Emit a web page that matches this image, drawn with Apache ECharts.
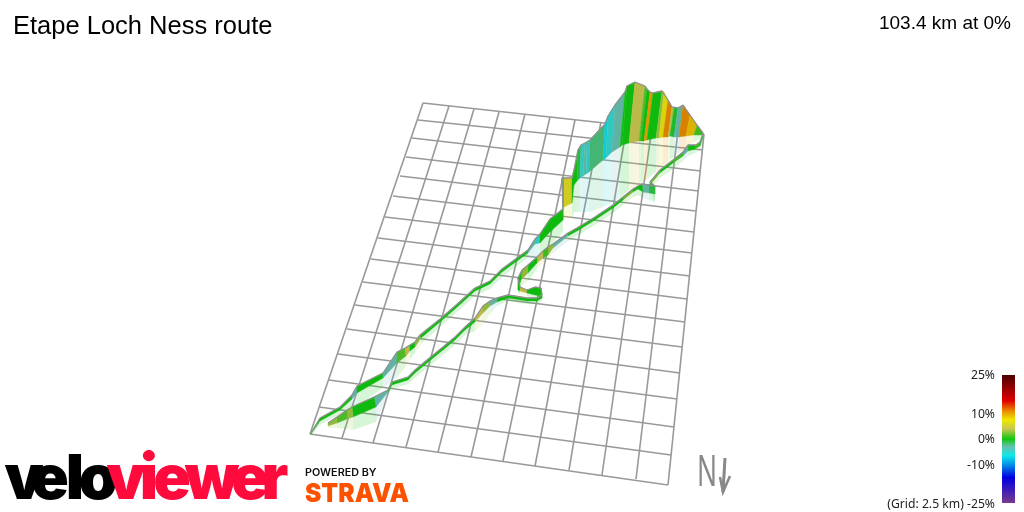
<!DOCTYPE html>
<html>
<head>
<meta charset="utf-8">
<style>html,body{margin:0;padding:0;background:#fff}#main{width:1024px;height:512px}</style>
<script src="https://cdn.jsdelivr.net/npm/echarts@6/dist/echarts.min.js"></script>
</head>
<body>
<div id="main"></div>
<script>
// grid corners along each edge of the tilted map
var rowsLeft = [[423,103],[418,120],[412,138],[406,157],[400,176],[393,196],[385,217],[378,238],[371,259],[363,282],[355,305],[347,329],[338,354],[329,380],[319,407],[310,434]];
var rowsRight = [[704,134],[703,150],[701,171],[699,191],[696,211],[694,232],[692,253],[690,276],[687,299],[685,322],[682,347],[680,373],[677,399],[674,427],[671,455],[668,485]];
var colsTop = [[423,103],[449,106],[474,109],[499,112],[525,114],[550,117],[575,120],[601,122],[627,125],[652,128],[678,131],[704,134]];
var colsBottom = [[310,434],[342,438],[373,443],[406,447],[438,452],[471,457],[503,461],[535,466],[569,470],[602,475],[636,479],[668,485]];

// route sections: topX, topY, baseX, baseY, shadowY, grade to the next section
var climbRoute = [
  [311,433,311,434,435,0],[320,418,320,421,425,0],[340,407,340,410,414,0],[352,395,352,399,406,-3],
  [357,386,357,393,406,0],[383,373,383,378,388,-3],[397,352,397,363,378,1.5],[405,348,406,356,366,4],
  [410,345,410,351,359,0],[415,342,415,347,353,3],[420,335,421,338,344,0],[440,319,440,322,327,0],
  [455,306,455,309,314,0],[475,288,475,291,296,0],[490,281,490,284,289,0],[502,269,502,272,277,0],
  [517,258,517,261,266,0],[528,250,528,253,258,-3],[535,239,535,244,258,-5],[540,234,540,243,255,0],
  [550,219,550,232,246,0],[563,209,563,220,232,0.5],[562,178,563,207,218,1.5],[564,178,564,207,218,6],
  [572,178,572,203,218,0],[574,170,574,185,212,0],[578,150,577,181,212,-1],[581,145,580,178,212,-5],
  [585,143,583,176,212,-3],[587,142,586,174,212,-5],[590,140,589,172,212,-2],[605,124,603,160,207,-7],
  [608,116,606,158,206,-5],[615,105,612,152,202,-3],[625,92,620,147,198,0],[627,86,622,145,196,0],
  [635,82,629,143,190,4],[645,86,639,141,184,1.5],[647,89,641,141,183,0],[650,92,644,141,181,10],
  [653,93,647,140,179,0],[662,91,656,138,172,3],[664,92,659,138,170,7],[668,100,663,137,166,11],
  [672,107,668,137,162,4],[674,108,670,136,160,-0.5],[678,108,674,137,157,-3],[683,105,679,137,153,11],
  [690,115,686,136,148,9],[697,125,694,135,142,1],[703,133,703,135,137,0]
];
var returnRoute = [
  [703,134,703,137,140,0],[700,142,700,146,150,1],[696,145,695,149,153,0],[688,145,688,151,156,-3],
  [683,152,683,156,161,1],[673,160,673,163,169,0],[660,170,660,173,178,2],[650,182,650,185,190,0],
  [655,186,655,194,202,-1],[649,185,649,193,200,-3],[642,184,643,192,198,0],[638,186,638,189,195,0],
  [633,189,633,192,197,2],[623,197,623,200,205,0],[613,205,613,208,213,0],[595,217,595,220,225,0],
  [577,228,577,231,236,0],[568,233,568,236,241,-3],[553,244,553,248,253,3],[548,247,548,255,259,1],
  [543,251,543,258,263,4],[537,257,537,263,269,0],[528,265,528,273,281,3],[522,270,521,280,286,0],
  [518,278,518,290,293,0],[520,287,520,291,294,4],[527,290,527,293,296,0],[535,287,535,295,298,0],
  [541,288,541,296,299,0],[542,295,542,298,301,0],[537,298,537,301,304,0],[527,298,527,301,304,0],
  [508,295,508,298,301,0],[497,298,497,302,306,-3],[490,301,490,306,314,3],[483,306,483,313,323,4],
  [475,318,475,322,331,0],[465,327,465,330,335,0],[455,337,455,340,345,0],[443,347,443,350,355,0],
  [427,360,427,363,368,0],[415,370,415,373,378,0],[408,377,408,380,384,0],[392,382,392,385,389,0],
  [388,390,388,392,394,-3],[374,397,376,407,422,0],[352,407,353,417,430,3],[347,410,347,419,429,1.5],
  [337,417,337,423,428,3],[328,423,328,426,428,0]
];

// colour scale of the legend
var gradeStops = [25,15,11,7.5,4,0,-3,-6.5,-10,-15,-25];
var gradeColors = ['#4a0000','#e00000','#e88a00','#f0e800','#c8c850','#10c810','#66c0b0','#10e8e8','#0090e8','#0000e0','#7a3a90'];
var gradeTicks = [25,10,0,-10,-25];
var tickLabels = ['25%','10%','0%','-10%','(Grid: 2.5 km) -25%'];

// velo / viewer letters with their centres
var veloLetters = [['v',24],['e',50],['l',75],['o',98]];
var viewerLetters = [['v',126],['i',149],['e',172],['w',212],['e',250],['r',275]];

function rgb(hex) {
    return [1, 3, 5].map(function(i) { return parseInt(hex.substr(i, 2), 16); });
}

function gradeColor(g, shade) {
    for (var i = 0; i < gradeStops.length - 1; i++) {
        if (g <= gradeStops[i] && g >= gradeStops[i + 1]) {
            var t = (gradeStops[i] - g) / (gradeStops[i] - gradeStops[i + 1]);
            var a = rgb(gradeColors[i]), b = rgb(gradeColors[i + 1]);
            return 'rgb(' + a.map(function(v, k) { return Math.round((v + (b[k] - v) * t) * shade); }).join(',') + ')';
        }
    }
    return gradeColors[5];
}

function gridLines() {
    var out = [];
    rowsLeft.forEach(function(p, i) { out.push({coords: [p, rowsRight[i]]}); });
    colsTop.forEach(function(p, i) { out.push({coords: [p, colsBottom[i]]}); });
    return out;
}

// one quad per route section, wall = top..base, shadow = base..shadowY
function quadSeries(route, kind) {
    return {
        type: 'custom',
        coordinateSystem: 'cartesian2d',
        silent: true,
        clip: false,
        z: kind === 'shadow' ? 2 : 3,
        data: route.slice(0, -1).map(function(r, i) { return [i].concat(r, route[i + 1]); }),
        encode: {x: 1, y: 2},
        renderItem: function(params, api) {
            var a = [api.value(1), api.value(2), api.value(3), api.value(4), api.value(5)];
            var b = [api.value(7), api.value(8), api.value(9), api.value(10), api.value(11)];
            var pts = kind === 'shadow'
                ? [[a[2], a[3]], [b[2], b[3]], [b[2], b[4]], [a[2], a[4]]]
                : [[a[0], a[1]], [b[0], b[1]], [b[2], b[3]], [a[2], a[3]]];
            var shape = {points: pts.map(function(p) { return api.coord(p); })};
            if (kind === 'shadow') {
                return {type: 'polygon', shape: shape, style: {fill: gradeColor(api.value(6), 1), opacity: 0.17}};
            }
            var color = gradeColor(api.value(6), 0.93);
            return {type: 'polygon', shape: shape, style: {fill: color, stroke: color, lineWidth: 0.4}};
        }
    };
}

function outlineSeries(route) {
    return {
        type: 'line',
        silent: true,
        showSymbol: false,
        z: 4,
        lineStyle: {color: '#909090', width: 1.3},
        data: route.map(function(r) { return [r[0], r[1]]; })
    };
}

function letter(ch, x, color) {
    return {
        type: 'text', x: x, y: 511, z: 10,
        style: {text: ch, font: '900 62px Inter', fill: color, textAlign: 'center', textVerticalAlign: 'bottom'}
    };
}

function legendGraphic() {
    var colorStops = gradeStops.map(function(g, i) {
        return {offset: (25 - g) / 50, color: gradeColors[i]};
    });
    var items = [{
        type: 'rect', shape: {x: 1002, y: 375, width: 13, height: 128},
        style: {fill: new echarts.graphic.LinearGradient(0, 0, 0, 1, colorStops)}
    }];
    gradeTicks.forEach(function(g, i) {
        items.push({
            type: 'text', x: 995, y: 440 - g * 2.57,
            style: {text: tickLabels[i], font: '12.2px "Noto Sans"', fill: '#222', textAlign: 'right', textVerticalAlign: 'middle'}
        });
    });
    return items;
}

function logoGraphic() {
    var items = [];
    veloLetters.forEach(function(l) { items.push(letter(l[0], l[1], '#000')); });
    viewerLetters.forEach(function(l) { items.push(letter(l[0], l[1], '#ff0a3c')); });
    items.push({
        type: 'text', x: 305, y: 473, scaleX: 1.08,
        style: {text: 'POWERED BY', font: '600 10px Inter', fill: '#111', textAlign: 'left', textVerticalAlign: 'middle'}
    });
    items.push({
        type: 'text', x: 305, y: 494, scaleX: 0.945,
        style: {text: 'STRAVA', font: '900 26px Inter', fill: '#fc5200', textAlign: 'left', textVerticalAlign: 'middle'}
    });
    // north marker
    items.push({
        type: 'text', x: 707, y: 473, scaleX: 0.6,
        style: {text: 'N', font: '44px "Noto Sans"', fill: '#888', textAlign: 'center', textVerticalAlign: 'middle'}
    });
    items.push({type: 'polyline', shape: {points: [[725, 458], [723, 492]]}, style: {stroke: '#888', lineWidth: 3, fill: null}});
    items.push({type: 'polyline', shape: {points: [[720, 477], [723, 492], [730, 476]]}, style: {stroke: '#888', lineWidth: 2.5, fill: null}});
    return items;
}

var chart = echarts.init(document.getElementById('main'));
chart.setOption({
    animation: false,
    backgroundColor: '#fff',
    title: [
        {text: 'Etape Loch Ness route', left: 8, top: 9, textStyle: {fontFamily: '"Liberation Sans"', fontWeight: 'normal', fontSize: 25.5, color: '#000'}},
        {text: '103.4 km at 0%', right: 8, top: 9, textStyle: {fontFamily: '"Liberation Sans"', fontWeight: 'normal', fontSize: 19, color: '#000'}}
    ],
    grid: {left: 0, right: 0, top: 0, bottom: 0},
    xAxis: {type: 'value', min: 0, max: 1024, show: false},
    yAxis: {type: 'value', min: 0, max: 512, inverse: true, show: false},
    graphic: legendGraphic().concat(logoGraphic()),
    series: [
        {
            type: 'lines',
            coordinateSystem: 'cartesian2d',
            silent: true,
            z: 1,
            lineStyle: {color: '#999', width: 1.6, opacity: 1},
            data: gridLines()
        },
        quadSeries(climbRoute, 'shadow'),
        quadSeries(returnRoute, 'shadow'),
        quadSeries(returnRoute, 'wall'),
        quadSeries(climbRoute, 'wall'),
        outlineSeries(returnRoute),
        outlineSeries(climbRoute)
    ]
});
</script>
</body>
</html>
